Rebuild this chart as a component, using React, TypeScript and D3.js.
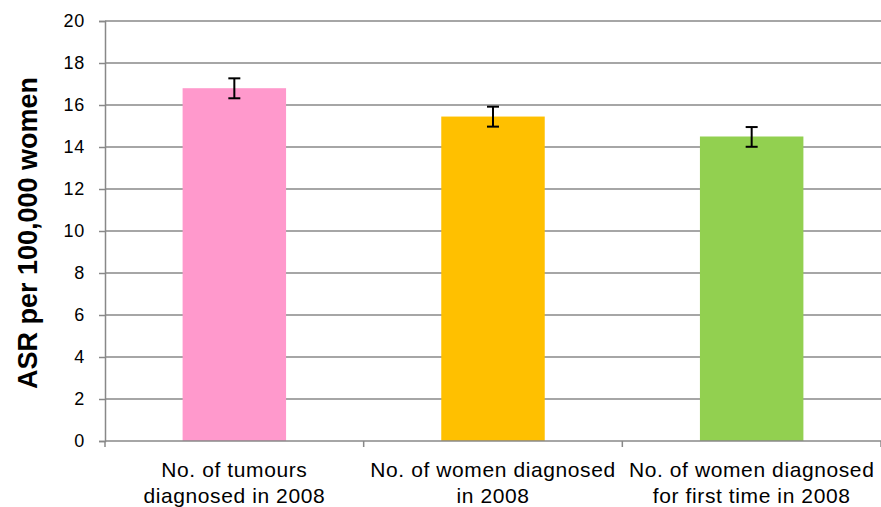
import { useEffect, useRef } from "react";
import * as d3 from "d3";

const categories = [
  ["No. of tumours", "diagnosed in 2008"],
  ["No. of women diagnosed", "in 2008"],
  ["No. of women diagnosed", "for first time in 2008"],
];
const values = [16.8, 15.45, 14.5];
const errLow = [16.32, 14.97, 14.01];
const errHigh = [17.27, 15.92, 14.95];
const colors = ["#ff99cc", "#ffc000", "#92d050"];
const yTicks = [0, 2, 4, 6, 8, 10, 12, 14, 16, 18, 20];

export default function App() {
  const ref = useRef<SVGSVGElement>(null);

  useEffect(() => {
    if (!ref.current) return;
    const svg = d3.select(ref.current);
    svg.selectAll("*").remove();
    const width = 881;
    const height = 507;
    const margin = { top: 21, right: 0, bottom: 66, left: 105 };

    const x = d3
      .scaleBand<number>()
      .domain(d3.range(values.length))
      .range([margin.left, width - margin.right])
      .paddingInner(0.6)
      .paddingOuter(0.3);

    const y = d3
      .scaleLinear()
      .domain([0, 20])
      .range([height - margin.bottom, margin.top]);

    const font = "'Liberation Sans', Arial, sans-serif";
    const grey = "#888888";

    // gridlines
    svg
      .append("g")
      .selectAll("line")
      .data(yTicks.filter(d => d > 0))
      .join("line")
      .attr("x1", margin.left)
      .attr("x2", width - margin.right)
      .attr("y1", d => y(d))
      .attr("y2", d => y(d))
      .attr("stroke", grey)
      .attr("stroke-width", 1.5);

    // y axis
    const yAxis = svg
      .append("g")
      .attr("transform", `translate(${margin.left},0)`)
      .call(d3.axisLeft(y).tickValues(yTicks).tickSize(6).tickPadding(14));
    yAxis.select(".domain").attr("stroke", grey).attr("stroke-width", 1.5);
    yAxis.selectAll(".tick line").attr("stroke", grey).attr("stroke-width", 1.5);
    yAxis
      .selectAll("text")
      .attr("font-family", font)
      .attr("font-size", 18)
      .attr("letter-spacing", 0.8)
      .attr("fill", "#000");

    // bars
    svg
      .append("g")
      .selectAll("rect")
      .data(values)
      .join("rect")
      .attr("x", (d, i) => x(i)!)
      .attr("width", x.bandwidth())
      .attr("y", d => y(d))
      .attr("height", d => y(0) - y(d))
      .attr("fill", (d, i) => colors[i]);

    // x axis line + ticks
    const xAxisG = svg.append("g");
    xAxisG
      .append("line")
      .attr("x1", margin.left)
      .attr("x2", width - margin.right)
      .attr("y1", y(0))
      .attr("y2", y(0))
      .attr("stroke", grey)
      .attr("stroke-width", 1.5);
    const step = x.step();
    xAxisG
      .selectAll("line.tk")
      .data(d3.range(values.length + 1))
      .join("line")
      .attr("class", "tk")
      .attr("x1", i => margin.left + i * step)
      .attr("x2", i => margin.left + i * step)
      .attr("y1", y(0))
      .attr("y2", y(0) + 6)
      .attr("stroke", grey)
      .attr("stroke-width", 1.5);

    // error bars
    const eb = svg.append("g").attr("stroke", "#000").attr("stroke-width", 2);
    values.forEach((v, i) => {
      const cx = x(i)! + x.bandwidth() / 2;
      eb.append("line").attr("x1", cx).attr("x2", cx).attr("y1", y(errLow[i])).attr("y2", y(errHigh[i]));
      [errLow[i], errHigh[i]].forEach(e => {
        eb.append("line").attr("x1", cx - 6).attr("x2", cx + 6).attr("y1", y(e)).attr("y2", y(e));
      });
    });

    // category labels
    svg
      .append("g")
      .selectAll("text")
      .data(categories)
      .join("text")
      .attr("x", (d, i) => x(i)! + x.bandwidth() / 2)
      .attr("y", y(0) + 36)
      .attr("text-anchor", "middle")
      .attr("font-family", font)
      .attr("font-size", 21)
      .attr("letter-spacing", 0.6)
      .each(function (d) {
        const t = d3.select(this);
        d.forEach((line, k) => {
          t.append("tspan")
            .attr("x", t.attr("x"))
            .attr("dy", k === 0 ? 0 : 26)
            .text(line);
        });
      });

    // y title
    svg
      .append("text")
      .attr("transform", `translate(36.5,233) rotate(-90)`)
      .attr("text-anchor", "middle")
      .attr("font-family", font)
      .attr("font-size", 27)
      .attr("font-weight", "bold")
      .text("ASR per 100,000 women");
  }, []);

  return (
    <svg
      ref={ref}
      width={881}
      height={507}
      style={{ position: "absolute", left: 0, top: 0, background: "#fff" }}
    />
  );
}
